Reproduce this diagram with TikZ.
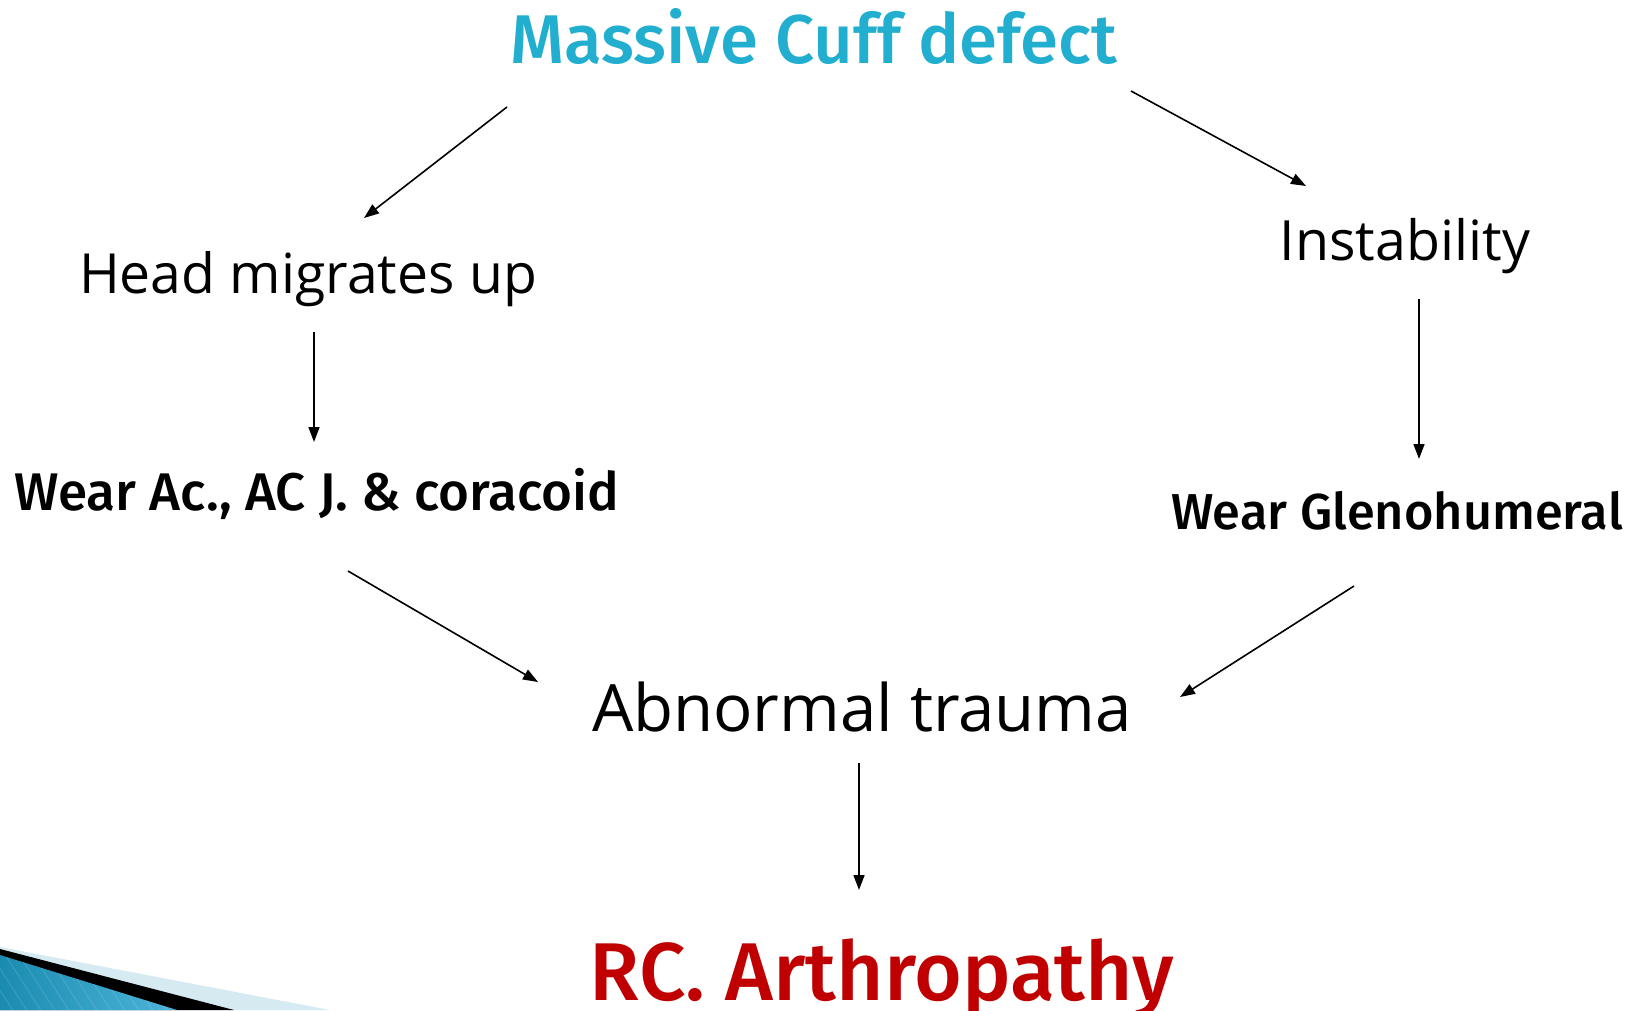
\documentclass[tikz,border=0pt]{standalone}
\usepackage{fontspec}
\setmainfont{Open Sans}
\IfFontExistsTF{Fira Sans Medium}
  {\newfontfamily\semib{Fira Sans Medium}\newcommand\semiw{}}
  {\newfontfamily\semib{Fira Sans}\newcommand\semiw{\bfseries}}
\usetikzlibrary{arrows.meta}
\definecolor{cuffblue}{RGB}{34,174,207}
\definecolor{rcred}{RGB}{192,0,0}
\definecolor{paleblue}{RGB}{214,234,242}
\definecolor{tealdark}{RGB}{26,139,176}
\definecolor{teallight}{RGB}{78,182,218}
\begin{document}
\begin{tikzpicture}[x=1pt,y=-1pt,
  lbl/.style={inner sep=0pt,anchor=base},
  flow/.style={line width=1.6pt,-{Triangle[length=15pt,width=11pt]}}]
\useasboundingbox (0,0) rectangle (1642,1010);
% bottom-left decoration
\fill[paleblue] (0,947) -- (330,1010) -- (0,1010) -- cycle;
\fill[black] (0,949) -- (234,1010) -- (0,1010) -- cycle;
\begin{scope}
\clip (0,955) -- (177,1010) -- (0,1010) -- cycle;
\shade[left color=tealdark,right color=teallight] (0,940) rectangle (180,1010);
\foreach \k in {0,14,...,250}{
  \draw[white,opacity=0.12,line width=1pt] (\k-40,950) -- (\k,1012);
}
\end{scope}
% texts
\node[lbl,text=cuffblue,font=\semib\semiw\fontsize{69}{69}\selectfont] (mcd) at (814,63) {Massive Cuff defect};
\node[lbl,font=\fontsize{55.3}{55.3}\selectfont] (head) at (308,293) {Head migrates up};
\node[lbl,font=\fontsize{55.5}{55.5}\selectfont] (inst) at (1405,260) {Instability};
\node[lbl,font=\semib\semiw\fontsize{53}{53}\selectfont] (wac) at (317,510) {Wear Ac., AC J. \& coracoid};
\node[lbl,font=\semib\semiw\fontsize{50.5}{50.5}\selectfont] (wgh) at (1397,529) {Wear Glenohumeral};
\node[lbl,font=\fontsize{65.3}{65.3}\selectfont] (abn) at (862,731) {Abnormal trauma};
\node[lbl,text=rcred,font=\semib\semiw\fontsize{82}{82}\selectfont] (rca) at (882,1000) {RC. Arthropathy};
% connector end points
\coordinate (a1s) at (507,107); \coordinate (a1e) at (364,218);
\coordinate (a2s) at (1131,91); \coordinate (a2e) at (1306,186);
\coordinate (a3s) at (314,332); \coordinate (a3e) at (314,442);
\coordinate (a4s) at (1419,299); \coordinate (a4e) at (1419,459);
\coordinate (a5s) at (348,571); \coordinate (a5e) at (538,682);
\coordinate (a6s) at (1354,586); \coordinate (a6e) at (1180,697);
\coordinate (a7s) at (859,763); \coordinate (a7e) at (859,890);
\draw[flow] (a1s) -- (a1e);
\draw[flow] (a2s) -- (a2e);
\draw[flow] (a3s) -- (a3e);
\draw[flow] (a4s) -- (a4e);
\draw[flow] (a5s) -- (a5e);
\draw[flow] (a6s) -- (a6e);
\draw[flow] (a7s) -- (a7e);
\end{tikzpicture}
\end{document}
